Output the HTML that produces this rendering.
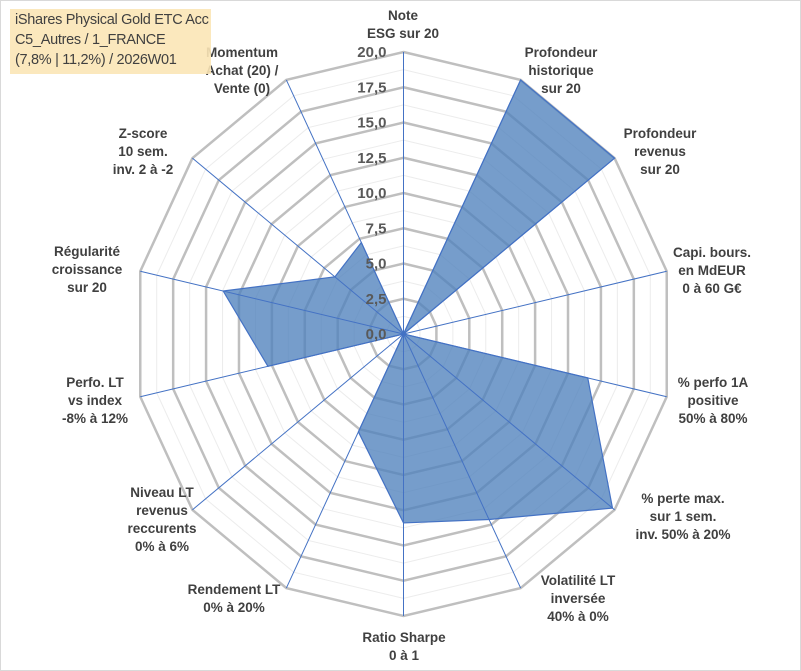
<!DOCTYPE html>
<html><head><meta charset="utf-8"><style>
body{margin:0;background:#fff;}
#wrap{position:relative;width:801px;height:671px;overflow:hidden;font-family:"Liberation Sans",sans-serif;}
svg{position:absolute;left:0;top:0;}
#title{position:absolute;left:10px;top:9px;width:201px;height:65px;background:rgba(251,229,182,0.9);color:#404040;font-size:14.5px;line-height:20px;padding:1px 0 0 5px;box-sizing:border-box;letter-spacing:-0.3px;}
</style></head><body>
<div id="wrap">
<svg id="chart" width="801" height="671"></svg>
<div id="title">iShares Physical Gold ETC Acc<br>C5_Autres / 1_FRANCE<br>(7,8% | 11,2%) / 2026W01</div>
</div>
<script>
const categories=[["Note","ESG sur 20"],["Profondeur","historique","sur 20"],["Profondeur","revenus","sur 20"],["Capi. bours.","en MdEUR","0 à 60 G€"],["% perfo 1A","positive","50% à 80%"],["% perte max.","sur 1 sem.","inv. 50% à 20%"],["Volatilité LT","inversée","40% à 0%"],["Ratio Sharpe","0 à 1"],["Rendement LT","0% à 20%"],["Niveau LT","revenus","reccurents","0% à 6%"],["Perfo. LT","vs index","-8% à 12%"],["Régularité","croissance","sur 20"],["Z-score","10 sem.","inv. 2 à -2"],["Momentum","Achat (20) /","Vente (0)"]];
const values=[0,20,20,0,14.0,19.8,14.6,13.4,7.7,0,10.3,13.7,6.5,7.2];
const tickValues=[0,2.5,5,7.5,10,12.5,15,17.5,20];
const tickLabels=["0,0","2,5","5,0","7,5","10,0","12,5","15,0","17,5","20,0"];
const labelPos=[[403,15],[561,52],[660,133],[712,252],[713,382],[683,498],[578,580],[404,637],[234,589],[162,492],[95,382],[87,251],[143,133],[242,52]];
const svg=document.getElementById('chart');
const NS='http://www.w3.org/2000/svg';
const cx=403.5,cy=334,RX=270,RY=282,maxV=20,N=categories.length;
function ang(i){return i*2*Math.PI/N;}
function pt(i,v){const r=v/maxV;return [cx+r*RX*Math.sin(ang(i)),cy-r*RY*Math.cos(ang(i))];}
function mk(t,a){const e=document.createElementNS(NS,t);for(const k in a)e.setAttribute(k,a[k]);svg.appendChild(e);return e;}
const frame=mk('rect',{x:0.5,y:0.5,width:800,height:670,fill:'none',stroke:'#d9d9d9'});


for(let k=1;k<=16;k++){const v=k*1.25;const major=k%2===0;
 const pts=[];for(let i=0;i<N;i++)pts.push(pt(i,v).join(','));
 const p=mk('polygon',{points:pts.join(' '),fill:'none',stroke:major?'#bfbfbf':'#ececec',"stroke-width":major?2.5:1});
 
 }
const sp=values.map((v,i)=>pt(i,v).join(',')).join(' ');
const area=mk('polygon',{points:sp,fill:'rgba(79,129,189,0.78)',stroke:'#4472c4',"stroke-width":1.2});


for(let i=0;i<N;i++){const [x,y]=pt(i,maxV);
 const l=mk('line',{x1:cx,y1:cy,x2:x,y2:y,stroke:'#4472c4',"stroke-width":1});
 
 }
tickValues.forEach((v,k)=>{const t=mk('text',{x:cx-17,y:cy-v/maxV*RY+5,"text-anchor":"end","font-size":15,"font-weight":"bold",fill:'#595959'});
 t.textContent=tickLabels[k];
 
 });
categories.forEach((lines,i)=>{const [x,y]=labelPos[i];
 lines.forEach((s,j)=>{const t=mk('text',{x:x,y:y+j*18+5,"text-anchor":"middle","font-size":13.5,"font-weight":"bold",fill:'#404040'});
  t.textContent=s;
  
  });});
</script>
</body></html>
